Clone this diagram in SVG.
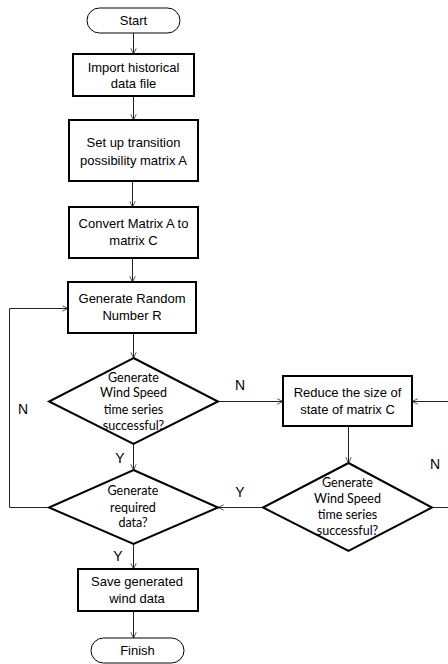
<svg xmlns="http://www.w3.org/2000/svg" width="448" height="664" viewBox="0 0 448 664">
<defs>
<marker id="arr" viewBox="0 0 10 10" refX="9.5" refY="5" markerWidth="6" markerHeight="8" markerUnits="userSpaceOnUse" orient="auto">
<path d="M0,0.5 L9.5,5 L0,9.5" fill="none" stroke="#222" stroke-width="1.3"/>
</marker>
<style>
.box{fill:#fff;stroke:#000;stroke-width:2}
.term{fill:#fff;stroke:#000;stroke-width:1}
.dia{fill:#fff;stroke:#000;stroke-width:2}
.t{font-family:"Liberation Sans",Arial,sans-serif;font-size:13px;fill:#000;text-anchor:middle}
.d{font-family:Lato,"Open Sans",sans-serif;font-size:12.5px;fill:#000;text-anchor:middle}
.lbl{font-family:"Liberation Sans",Arial,sans-serif;font-size:14px;fill:#000;text-anchor:middle}
.c{fill:none;stroke:#222;stroke-width:1;marker-end:url(#arr)}
</style>
</defs>
<g id="connectors">
<path class="c" d="M133.5,33 V54"/>
<path class="c" d="M133.5,96 V120"/>
<path class="c" d="M132.5,181 V207"/>
<path class="c" d="M132.5,258 V282"/>
<path class="c" d="M133.5,333 V358"/>
<path class="c" d="M218,401.5 H283"/>
<path class="c" d="M348.5,426 V463"/>
<path class="c" d="M263,507.5 H218"/>
<path class="c" d="M432,507.5 H452 V401.5 H412"/>
<path class="c" d="M133.5,444 V470"/>
<path class="c" d="M49,507.5 H9.5 V308.5 H68"/>
<path class="c" d="M133.5,544 V569"/>
<path class="c" d="M133.5,611 V638"/>
</g>
<g id="labels">
<text class="lbl" x="240" y="390">N</text>
<text class="lbl" x="23" y="414">N</text>
<text class="lbl" x="435" y="469">N</text>
<text class="lbl" x="240" y="497">Y</text>
<text class="lbl" x="120" y="463">Y</text>
<text class="lbl" x="118" y="561">Y</text>
</g>
<g id="start">
<rect class="term" x="87" y="8" width="93" height="25" rx="12.5"/>
<text class="t" x="133.5" y="25">Start</text>
</g>
<g id="import">
<rect class="box" x="73" y="54" width="121" height="42"/>
<text class="t" x="133.5" y="71.5">Import historical</text>
<text class="t" x="133.5" y="88">data file</text>
</g>
<g id="setup">
<rect class="box" x="69" y="120" width="129" height="61"/>
<text class="t" x="133.5" y="146.5">Set up transition</text>
<text class="t" x="133.5" y="164.5">possibility matrix A</text>
</g>
<g id="convert">
<rect class="box" x="69" y="207" width="129" height="51"/>
<text class="t" x="133.5" y="228">Convert Matrix A to</text>
<text class="t" x="133.5" y="245">matrix C</text>
</g>
<g id="random">
<rect class="box" x="68" y="282" width="128" height="51"/>
<text class="t" x="132" y="302.5">Generate Random</text>
<text class="t" x="132" y="320">Number R</text>
</g>
<g id="dec1">
<polygon class="dia" points="133.5,358 218,401.5 133.5,444 49,401.5"/>
<text class="d" x="133.5" y="381.5">Generate</text>
<text class="d" x="133.5" y="397">Wind Speed</text>
<text class="d" x="133.5" y="414">time series</text>
<text class="d" x="133.5" y="430">successful?</text>
</g>
<g id="reduce">
<rect class="box" x="283" y="376" width="129" height="50"/>
<text class="t" x="347.5" y="396.5">Reduce the size of</text>
<text class="t" x="347.5" y="414">state of matrix C</text>
</g>
<g id="dec2">
<polygon class="dia" points="348.5,463 432,507.5 348.5,551 263,507.5"/>
<text class="d" x="347.5" y="487">Generate</text>
<text class="d" x="347.5" y="503">Wind Speed</text>
<text class="d" x="347.5" y="519">time series</text>
<text class="d" x="347.5" y="535">successful?</text>
</g>
<g id="dec3">
<polygon class="dia" points="133.5,470 218,507.5 133.5,544 49,507.5"/>
<text class="d" x="133" y="495">Generate</text>
<text class="d" x="133" y="511.5">required</text>
<text class="d" x="133" y="527">data?</text>
</g>
<g id="save">
<rect class="box" x="78" y="569" width="120" height="42"/>
<text class="t" x="137" y="585.5">Save generated</text>
<text class="t" x="137" y="603">wind data</text>
</g>
<g id="finish">
<rect class="term" x="91" y="638" width="93" height="25" rx="12.5"/>
<text class="t" x="137.5" y="655">Finish</text>
</g>
</svg>
